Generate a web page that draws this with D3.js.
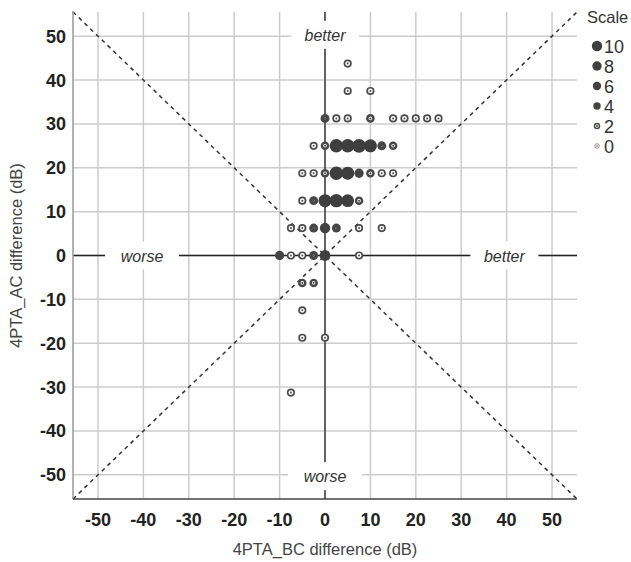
<!DOCTYPE html>
<html>
<head>
<meta charset="utf-8">
<script src="https://cdn.jsdelivr.net/npm/d3@7"></script>
<style>
  body { margin:0; background:#fff; }
  svg text { font-family:"Liberation Sans", Arial, sans-serif; }
</style>
</head>
<body>
<div id="plot"></div>
<script>
// 4PTA_BC difference (x), 4PTA_AC difference (y), number of cases (size)
var bcDiff = [5,
  5, 10,
  0, 2.5, 5, 10, 15, 17.5, 20, 22.5, 25,
  -2.5, 0, 2.5, 5, 7.5, 10, 12.5, 15,
  -5, -2.5, 0, 2.5, 5, 7.5, 10, 12.5, 15,
  -5, -2.5, 0, 2.5, 5, 7.5,
  -7.5, -5, -2.5, 0, 2.5, 7.5, 12.5,
  -10, -7.5, -5, -2.5, 0, 7.5,
  -5, -2.5,
  -5,
  -5, 0,
  -7.5];
var acDiff = [43.75,
  37.5, 37.5,
  31.25, 31.25, 31.25, 31.25, 31.25, 31.25, 31.25, 31.25, 31.25,
  25, 25, 25, 25, 25, 25, 25, 25,
  18.75, 18.75, 18.75, 18.75, 18.75, 18.75, 18.75, 18.75, 18.75,
  12.5, 12.5, 12.5, 12.5, 12.5, 12.5,
  6.25, 6.25, 6.25, 6.25, 6.25, 6.25, 6.25,
  0, 0, 0, 0, 0, 0,
  -6.25, -6.25,
  -12.5,
  -18.75, -18.75,
  -31.25];
var counts = [1,
  1, 1,
  3, 1, 1, 2, 1, 1, 1, 1, 1,
  1, 2, 15, 15, 16, 14, 3, 2,
  1, 1, 2, 15, 14, 4, 2, 1, 1,
  1, 3, 14, 15, 13, 2,
  1, 1, 3, 7, 3, 1, 1,
  4, 1, 1, 3, 8, 1,
  2, 2,
  1,
  1, 1,
  1];

var ticks = [-50,-40,-30,-20,-10,0,10,20,30,40,50];
var legendValues = [10,8,6,4,2,0];
var refLabels = [
  {x:0, y:50.3, text:'better'},
  {x:0, y:-50.3, text:'worse'},
  {x:-40.3, y:0, text:'worse'},
  {x:39.5, y:0, text:'better'}
];

var W = 631, H = 562;
var pLeft = 73, pRight = 577, pTop = 12, pBottom = 499;

var svg = d3.select('#plot').append('svg')
    .attr('width', W)
    .attr('height', H);

var x = d3.scaleLinear().domain([-55.5, 55.5]).range([pLeft, pRight]);
var y = d3.scaleLinear().domain([-55.5, 55.5]).range([pBottom, pTop]);

var r = d3.scaleLinear().domain([0, 16]).range([3.9, 6.9]);
var rLegend = d3.scaleLinear().domain([0, 10]).range([2.7, 5.2]);
var fill = d3.scaleLinear().domain([0, 1, 4, 10]).range(['#a0a0a0', '#4a4a4a', '#444', '#3e3e3e']).clamp(true);
var hole = d3.scaleLinear().domain([0, 1, 2, 4]).range([1.7, 2.4, 1.8, 0]).clamp(true);

// gridlines
var grid = svg.append('g');
grid.selectAll('.gx').data(ticks).enter().append('line')
    .attr('x1', d => x(d)).attr('x2', d => x(d))
    .attr('y1', pTop).attr('y2', pBottom)
    .attr('stroke', '#cccccc').attr('stroke-width', 1.5);
grid.selectAll('.gy').data(ticks).enter().append('line')
    .attr('x1', pLeft).attr('x2', pRight)
    .attr('y1', d => y(d)).attr('y2', d => y(d))
    .attr('stroke', '#cccccc').attr('stroke-width', 1.5);

// diagonals
[[-55.5, -55.5, 55.5, 55.5], [-55.5, 55.5, 55.5, -55.5]].forEach(function(s){
  svg.append('line')
    .attr('x1', x(s[0])).attr('y1', y(s[1]))
    .attr('x2', x(s[2])).attr('y2', y(s[3]))
    .attr('stroke', '#333').attr('stroke-width', 1.5)
    .attr('stroke-dasharray', '4,4');
});

// zero reference lines
svg.append('line')
    .attr('x1', x(0)).attr('x2', x(0)).attr('y1', pTop).attr('y2', pBottom)
    .attr('stroke', '#222').attr('stroke-width', 1.3);
svg.append('line')
    .attr('x1', pLeft).attr('x2', pRight).attr('y1', y(0)).attr('y2', y(0))
    .attr('stroke', '#222').attr('stroke-width', 1.3);

// reference labels
var lab = svg.selectAll('.ref').data(refLabels).enter().append('g')
    .attr('transform', d => 'translate(' + x(d.x) + ',' + y(d.y) + ')');
lab.append('rect')
    .attr('x', d => d.text === 'better' ? -34 : -37)
    .attr('y', -14)
    .attr('width', d => d.text === 'better' ? 68 : 74)
    .attr('height', 28)
    .attr('fill', '#fff');
lab.append('text')
    .attr('text-anchor', 'middle')
    .attr('y', 6)
    .attr('font-size', 16)
    .attr('font-style', 'italic')
    .attr('fill', '#333')
    .text(d => d.text);

// axes lines
svg.append('line')
    .attr('x1', pLeft).attr('x2', pLeft).attr('y1', pTop - 1).attr('y2', pBottom)
    .attr('stroke', '#999').attr('stroke-width', 1.5);
svg.append('line')
    .attr('x1', pLeft).attr('x2', pRight).attr('y1', pBottom).attr('y2', pBottom)
    .attr('stroke', '#444').attr('stroke-width', 1.5);

// tick labels
svg.selectAll('.tx').data(ticks).enter().append('text')
    .attr('x', d => x(d)).attr('y', 526)
    .attr('text-anchor', 'middle')
    .attr('font-size', 18).attr('font-weight', 'bold').attr('fill', '#222')
    .text(d => d);
svg.selectAll('.ty').data(ticks).enter().append('text')
    .attr('x', 66).attr('y', d => y(d) + 6.5)
    .attr('text-anchor', 'end')
    .attr('font-size', 18).attr('font-weight', 'bold').attr('fill', '#222')
    .text(d => d);

// axis titles
svg.append('text')
    .attr('x', x(0)).attr('y', 555)
    .attr('text-anchor', 'middle')
    .attr('font-size', 16.5).attr('fill', '#444')
    .text('4PTA_BC difference (dB)');
svg.append('text')
    .attr('transform', 'translate(22,' + y(0) + ') rotate(-90)')
    .attr('text-anchor', 'middle')
    .attr('font-size', 16.5).attr('fill', '#444')
    .text('4PTA_AC difference (dB)');

// points
var pts = d3.range(counts.length).map(function(i){
  return {x: bcDiff[i], y: acDiff[i], n: counts[i]};
});

function marker(sel, rs){
  sel.append('circle').attr('r', d => rs(d.n)).attr('fill', d => fill(d.n));
  sel.append('circle').attr('r', d => hole(d.n)).attr('fill', '#fff');
  sel.append('circle').attr('r', d => d.n < 4 ? 1 : 0).attr('fill', d => fill(d.n));
}

var dots = svg.append('g').selectAll('g').data(pts).enter().append('g')
    .attr('transform', d => 'translate(' + x(d.x) + ',' + y(d.y) + ')');
marker(dots, r);

// legend
svg.append('text')
    .attr('x', 587).attr('y', 23)
    .attr('font-size', 16.5).attr('fill', '#333')
    .text('Scale');
var leg = svg.append('g').selectAll('g').data(legendValues.map(v => ({n: v}))).enter().append('g')
    .attr('transform', (d, i) => 'translate(597,' + (46 + i * 20) + ')');
marker(leg, rLegend);
leg.append('text')
    .attr('x', 7).attr('y', 6.5)
    .attr('font-size', 18).attr('fill', '#333')
    .text(d => d.n);
</script>
</body>
</html>
